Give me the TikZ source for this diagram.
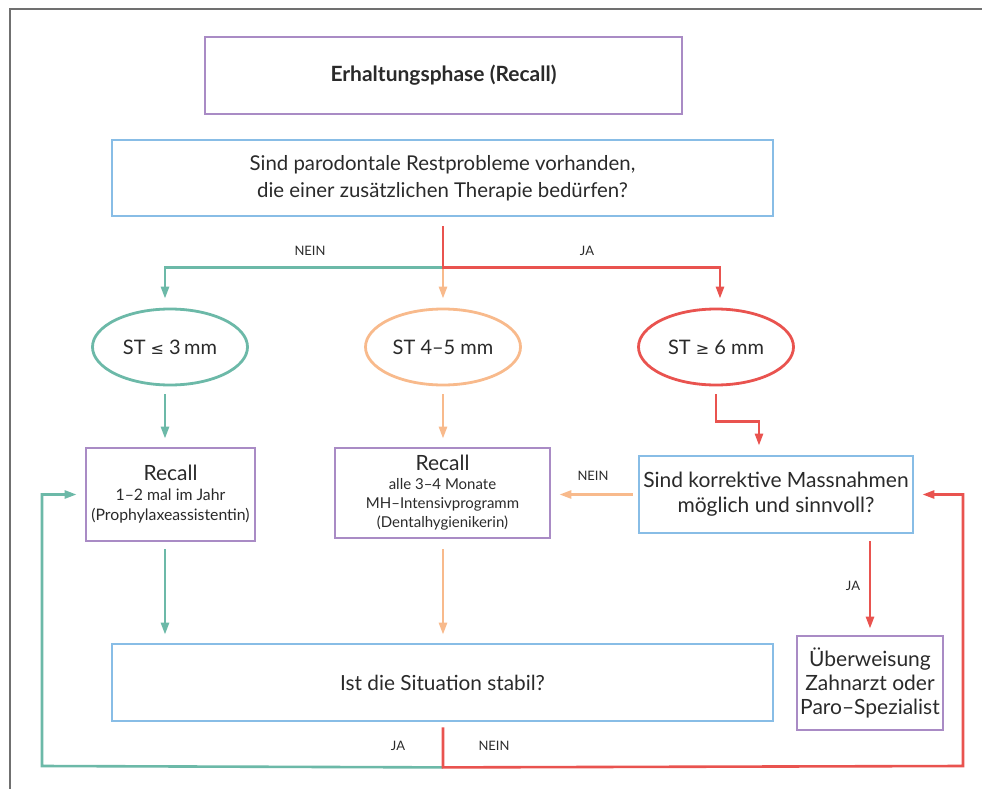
\documentclass[tikz,border=0pt]{standalone}
\usepackage{fontspec}
\setmainfont{Lato}
\newfontfamily\symf{DejaVu Sans}
\usetikzlibrary{arrows.meta,shapes.geometric,calc}
\definecolor{cpurple}{HTML}{A98BC5}
\definecolor{cblue}{HTML}{88BDE6}
\definecolor{cteal}{HTML}{6CB9A8}
\definecolor{corange}{HTML}{F8BA8C}
\definecolor{cred}{HTML}{E9534F}
\definecolor{cframe}{HTML}{707070}
\definecolor{ctext}{HTML}{2A2A2A}
\begin{document}
\begin{tikzpicture}[x=1pt,y=-1pt,
  box/.style={draw, line width=2.8pt, align=center, inner sep=0pt, text=ctext},
  pbox/.style={box, draw=cpurple},
  bbox/.style={box, draw=cblue},
  oval/.style={draw, ellipse, line width=2.8pt, inner sep=0pt, minimum width=155pt, minimum height=76pt, text=ctext, font=\fontsize{20}{24}\selectfont},
  arr/.style={line width=2.6pt, -{Triangle[length=12pt,width=8pt]}},
  lbl/.style={font=\fontsize{13}{15}\selectfont, text=ctext, inner sep=0pt}]
\useasboundingbox (0,0) rectangle (982,789);
\draw[cframe, line width=2pt] (9.5,789) -- (9.5,9.5) -- (982,9.5);

% nodes
\node[pbox, minimum width=477pt, minimum height=77pt, font=\fontsize{21}{25}\selectfont\bfseries] (title) at (443.5,75.5) {Erhaltungsphase (Recall)};
\node[bbox, minimum width=661pt, minimum height=76pt, font=\fontsize{20.4}{27}\selectfont] (q1) at (442.5,178) {Sind parodontale Restprobleme vorhanden,\\ die einer zusätzlichen Therapie bedürfen?};
\node[oval, draw=cteal] (e1) at (170,347) {ST {\symf\fontsize{16}{20}\selectfont ≤} 3\,mm};
\node[oval, draw=corange] (e2) at (443,347) {ST 4–5 mm};
\node[oval, draw=cred] (e3) at (716,347) {ST {\symf\fontsize{16}{20}\selectfont ≥} 6 mm};
\node[pbox, minimum width=169pt, minimum height=93pt, font=\fontsize{15.8}{20}\selectfont] (r1) at (170.5,494.5) {{\fontsize{21}{24}\selectfont Recall}\\ 1–2 mal im Jahr\\ (Prophylaxeassistentin)};
\node[pbox, minimum width=215pt, minimum height=90pt, font=\fontsize{15}{19}\selectfont] (r2) at (442.5,493) {{\fontsize{21}{24}\selectfont Recall}\\ alle 3–4 Monate\\ MH–Intensivprogramm\\ (Dentalhygienikerin)};
\node[bbox, minimum width=274pt, minimum height=77pt, font=\fontsize{21}{25}\selectfont] (q2) at (776,494.5) {Sind korrektive Massnahmen\\ möglich und sinnvoll?};
\node[pbox, minimum width=146pt, minimum height=94pt, font=\fontsize{21}{24}\selectfont] (ub) at (870,683) {Überweisung\\ Zahnarzt oder\\ Paro–Spezialist};
\node[bbox, minimum width=661pt, minimum height=77pt, font=\fontsize{20.8}{24}\selectfont] (q3) at (442.5,682.5) {Ist die Situation stabil?};

% first branching
\coordinate (j) at ($(q1.south)+(0.5,50)$);
\coordinate (q1s) at ($(q1.south)+(0.5,9)$);
\draw[arr, cteal] (j) -| ($(e1.north)+(-5,-9)$);
\draw[arr, corange] (j) -- ($(e2.north)+(0,-9)$);
\draw[arr, cred] (q1s) -- (j) -| ($(e3.north)+(4,-9)$);
\node[lbl] (lnein1) at (310,251) {NEIN};
\node[lbl] (lja1) at (587,251) {JA};

% ellipses to boxes
\coordinate (a1) at ($(e1.south)+(-5,8)$);
\draw[arr, cteal, shorten >=8pt] (a1) -- (a1 |- r1.north);
\coordinate (a2) at ($(e2.south)+(0,8)$);
\draw[arr, corange, shorten >=8pt] (a2) -- (a2 |- r2.north);
\coordinate (a3) at ($(e3.south)+(0,8)$);
\coordinate (a3b) at ($(q2.north)+(-17,-9)$);
\draw[arr, cred] (a3) -- ++(0,27) -| (a3b);

% q2 branches
\draw[arr, corange, shorten <=5pt, shorten >=8pt] (q2.west) -- (q2.west -| r2.east);
\node[lbl] (lnein2) at (593,476) {NEIN};
\draw[arr, cred, shorten <=7pt, shorten >=6pt] (ub.north |- q2.south) -- (ub.north);
\node[lbl] (lja2) at (853,586) {JA};

% recall boxes to q3
\coordinate (c1) at ($(r1.south)+(-5.5,7)$);
\draw[arr, cteal, shorten >=8pt] (c1) -- (c1 |- q3.north);
\coordinate (c2) at ($(r2.south)+(0.5,10)$);
\draw[arr, corange, shorten >=8pt] (c2) -- (c2 |- q3.north);

% bottom loops
\coordinate (b) at ($(q3.south)+(0.5,45)$);
\coordinate (q3s) at ($(q3.south)+(0.5,5)$);
\coordinate (lx) at (42,766);
\coordinate (rx) at (963,766);
\draw[arr, cteal, shorten >=8pt] (b) -- (lx) |- (r1.west);
\draw[arr, cred, shorten >=8pt] (q3s) -- (b) -- (rx) |- (q2.east);
\node[lbl] (lja3) at (398,746) {JA};
\node[lbl] (lnein3) at (494,746) {NEIN};
\end{tikzpicture}
\end{document}
